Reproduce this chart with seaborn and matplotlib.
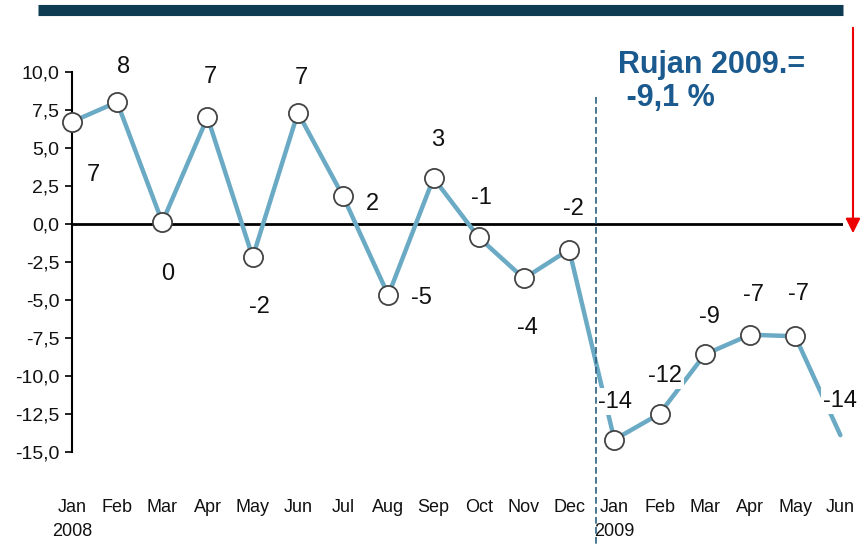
import matplotlib
matplotlib.use('Agg')
import matplotlib.pyplot as plt
import seaborn as sns
import pandas as pd

# Monthly values (Jan 2008 - Jun 2009)
months = ['Jan\n2008', 'Feb', 'Mar', 'Apr', 'May', 'Jun', 'Jul', 'Aug', 'Sep',
          'Oct', 'Nov', 'Dec', 'Jan\n2009', 'Feb', 'Mar', 'Apr', 'May', 'Jun']
values = [6.7, 8.0, 0.1, 7.0, -2.2, 7.3, 1.8, -4.7, 3.0,
          -0.9, -3.6, -1.7, -14.2, -12.5, -8.6, -7.3, -7.4, -13.9]
point_labels = ['7', '8', '0', '7', '-2', '7', '2', '-5', '3',
                '-1', '-4', '-2', '-14', '-12', '-9', '-7', '-7', '-14']
y_ticks = [10, 7.5, 5, 2.5, 0, -2.5, -5, -7.5, -10, -12.5, -15]
y_ticklabels = ['10,0', '7,5', '5,0', '2,5', '0,0', '-2,5', '-5,0',
                '-7,5', '-10,0', '-12,5', '-15,0']
note = 'Rujan 2009.=\n -9,1 %'

# label offsets in pixels (layout only)
label_offsets = [(21, -53), (6, 35), (5, -52), (3, 40), (7, -50), (3, 35),
                 (29, -8), (33, -3), (4, 38), (3, 39), (4, -50), (4, 41),
                 (1, 38), (5, 38), (5, 37), (4, 40), (3, 42), (0, 34)]

df = pd.DataFrame({'idx': range(len(values)), 'value': values})

sns.set_theme(style='white')
plt.rcParams['font.family'] = ['Liberation Sans', 'DejaVu Sans']

fig = plt.figure(figsize=(8.66, 5.47), dpi=100)
ax = fig.add_axes([0.083, 0.174, 0.89, 0.695])

line_col = '#6aaac4'
sns.lineplot(data=df, x='idx', y='value', color=line_col, linewidth=3.2,
             ax=ax, zorder=3, clip_on=False)
sns.scatterplot(data=df.iloc[:-1], x='idx', y='value', s=190, color='white',
                edgecolor='#444444', linewidth=1.3, ax=ax, zorder=5,
                clip_on=False)

ax.axhline(0, color='black', lw=2, zorder=2)

for i, (v, lab, off) in enumerate(zip(values, point_labels, label_offsets)):
    ax.annotate(lab, (i, v), xytext=off, textcoords='offset pixels',
                ha='center', va='center', fontsize=17, color='#111111',
                bbox=dict(boxstyle='square,pad=0.1', fc='white', ec='none'),
                zorder=4, annotation_clip=False)

ax.set_xlim(0, 17.05)
ax.set_ylim(-15, 10)
ax.set_yticks(y_ticks)
ax.set_yticklabels(y_ticklabels)
ax.set_xticks(range(len(months)))
ax.set_xticklabels(months, ha='center', linespacing=1.5)
ax.tick_params(axis='y', left=True, length=5, width=1.3, labelsize=14,
               pad=4, colors='#111111')
ax.tick_params(axis='x', bottom=False, labelsize=13, pad=28,
               colors='#111111')
ax.set_xlabel('')
ax.set_ylabel('')
for s in ['top', 'right', 'bottom']:
    ax.spines[s].set_visible(False)
ax.spines['left'].set_color('black')
ax.spines['left'].set_linewidth(1.5)
ax.grid(False)

# dashed divider between 2008 and 2009, running down through the labels
fig.add_artist(plt.Line2D([596 / 866, 596 / 866], [1 - 97 / 547, 0],
                          color='#2b5f7e', lw=1.2, ls=(0, (4, 2))))

# dark bar at the top
fig.add_artist(plt.Line2D([38 / 866, 843 / 866], [1 - 10 / 547, 1 - 10 / 547],
                          color='#0e3b52', lw=8, solid_capstyle='butt'))

# red arrow on the right
fig.add_artist(matplotlib.patches.FancyArrowPatch(
    (853 / 866, 1 - 25 / 547), (853 / 866, 1 - 236 / 547),
    transform=fig.transFigure, arrowstyle='-|>', mutation_scale=22,
    color='#ee0000', lw=1.5))

fig.text(618 / 866, 1 - 50 / 547, note, fontsize=22, fontweight='bold',
         color='#1b5a8e', ha='left', va='top', linespacing=1.15)

fig.savefig('out.png', dpi=100)
